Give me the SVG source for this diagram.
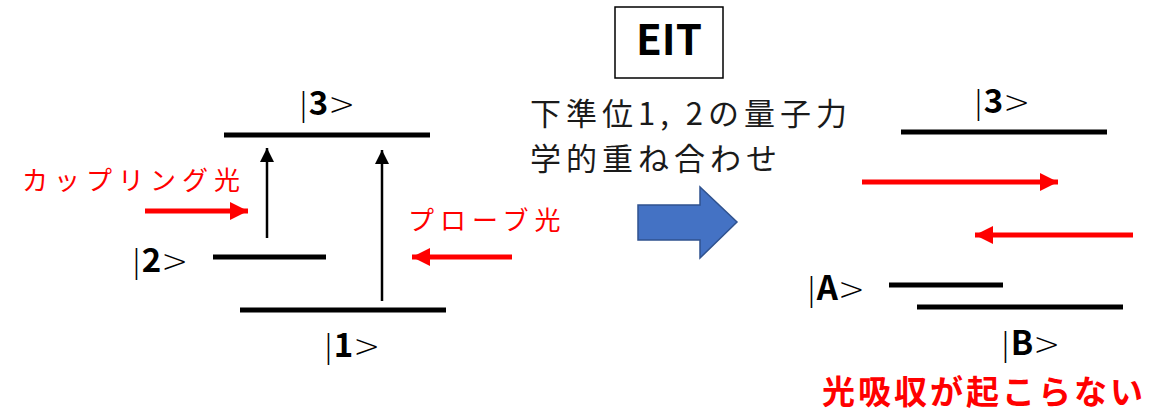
<svg xmlns="http://www.w3.org/2000/svg" width="1153" height="414" viewBox="0 0 1153 414">
<style>
.lvl{stroke:#000;stroke-width:5;}
.up{stroke:#000;stroke-width:2.5;fill:none;marker-end:url(#hb);}
.red{stroke:#ff0000;stroke-width:5;fill:none;marker-end:url(#hr);}
.ket{font-family:"DejaVu Sans",sans-serif;font-size:32px;fill:#000;}
.ket .b{font-family:"Noto Sans CJK JP","Noto Sans",sans-serif;font-weight:bold;font-size:33px;}
.ket .g{font-weight:200;}
.jr{font-family:"Noto Sans CJK JP",sans-serif;font-size:26px;fill:#ff0000;letter-spacing:6px;}
.jt{font-family:"Noto Sans CJK JP",sans-serif;font-size:31px;fill:#1a1a1a;letter-spacing:5px;}
</style>
<defs>
<marker id="hb" markerUnits="userSpaceOnUse" markerWidth="14" markerHeight="14" refX="14" refY="7" orient="auto"><path d="M0,0 L14,7 L0,14 z" fill="#000"/></marker>
<marker id="hr" markerUnits="userSpaceOnUse" markerWidth="18" markerHeight="18" refX="18" refY="9" orient="auto"><path d="M0,0 L18,9 L0,18 z" fill="#ff0000"/></marker>
</defs>
<rect width="1153" height="414" fill="#fff"/>

<g id="left-levels">
<line class="lvl" x1="224" y1="135" x2="430" y2="135"/>
<line class="lvl" x1="213" y1="257" x2="326" y2="257"/>
<line class="lvl" x1="240" y1="310" x2="446" y2="310"/>
<text class="ket" x="298" y="115"><tspan class="g">|</tspan><tspan class="b">3</tspan><tspan class="g">&gt;</tspan></text>
<text class="ket" x="131" y="272"><tspan class="g">|</tspan><tspan class="b">2</tspan><tspan class="g">&gt;</tspan></text>
<text class="ket" x="323" y="357"><tspan class="g">|</tspan><tspan class="b">1</tspan><tspan class="g">&gt;</tspan></text>
</g>
<g id="coupling-label"><text class="jr" x="22" y="190">カップリング光</text></g>
<g id="probe-label"><text class="jr" x="408" y="230">プローブ光</text></g>

<g id="eit">
<rect x="615" y="7" width="108" height="71" fill="#fff" stroke="#000" stroke-width="1.5"/>
<text x="669" y="55" text-anchor="middle" font-family="Noto Sans CJK JP,Noto Sans,sans-serif" font-size="42" font-weight="bold">EIT</text>
</g>
<g id="desc">
<text class="jt" x="530" y="125">下準位1, 2の量子力</text>
<text class="jt" x="530" y="170">学的重ね合わせ</text>
</g>
<g id="block-arrow">
<path d="M638,205 L700,205 L700,187 L737,222 L700,258 L700,240 L638,240 Z" fill="#4472c4" stroke="#2f528f" stroke-width="1.5"/>
</g>

<g id="right-levels">
<line class="lvl" x1="901" y1="132" x2="1107" y2="132"/>
<line class="lvl" x1="889" y1="285" x2="1003" y2="285"/>
<line class="lvl" x1="917" y1="307" x2="1123" y2="307"/>
<text class="ket" x="973" y="113"><tspan class="g">|</tspan><tspan class="b">3</tspan><tspan class="g">&gt;</tspan></text>
<text class="ket" x="806" y="300"><tspan class="g">|</tspan><tspan class="b">A</tspan><tspan class="g">&gt;</tspan></text>
<text class="ket" x="1000" y="355"><tspan class="g">|</tspan><tspan class="b">B</tspan><tspan class="g">&gt;</tspan></text>
</g>
<g id="result"><text x="822" y="404" font-family="Noto Sans CJK JP,sans-serif" font-size="33" font-weight="bold" fill="#ff0000" letter-spacing="3">光吸収が起こらない</text></g>

<g id="connectors">
<line class="up" x1="267" y1="238" x2="267" y2="148"/>
<line class="up" x1="382" y1="301" x2="382" y2="150"/>
<line class="red" x1="145" y1="211" x2="248" y2="211"/>
<line class="red" x1="512" y1="257" x2="412" y2="257"/>
<line class="red" x1="862" y1="182" x2="1058" y2="182"/>
<line class="red" x1="1133" y1="235" x2="975" y2="235"/>
</g>
</svg>
